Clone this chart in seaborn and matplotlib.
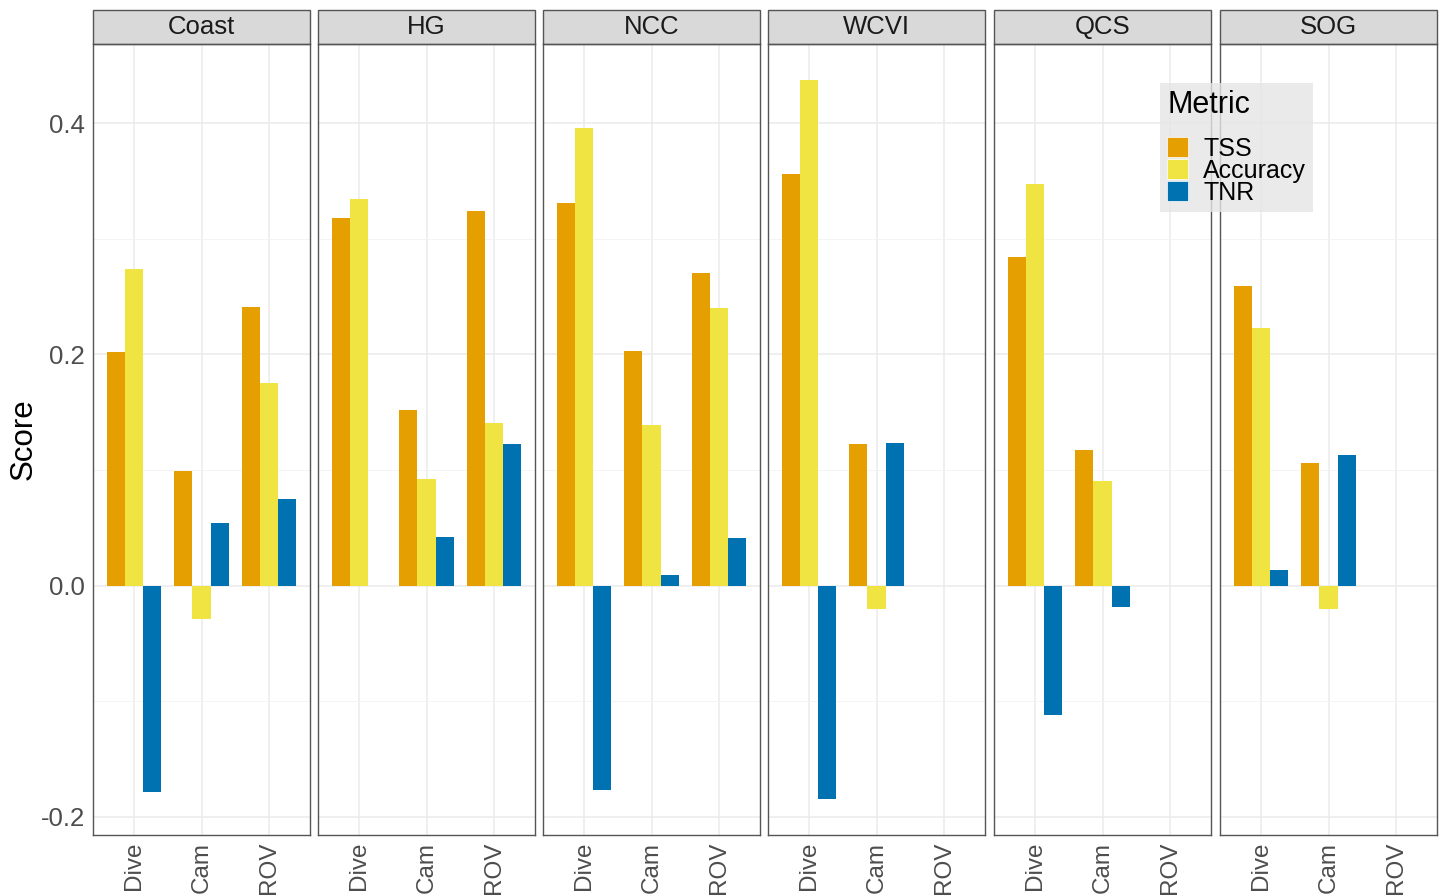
import numpy as np
import pandas as pd
import matplotlib
matplotlib.use("Agg")
import matplotlib.pyplot as plt
from matplotlib.patches import Rectangle, Patch
import seaborn as sns

regions = ["Coast", "HG", "NCC", "WCVI", "QCS", "SOG"]
methods = ["Dive", "Cam", "ROV"]
metrics = ["TSS", "Accuracy", "TNR"]
colors = ["#E69F00", "#F0E442", "#0072B2"]

# values per region: [Dive, Cam, ROV]
tss = {
    "Coast": [0.202, 0.099, 0.241],
    "HG":    [0.318, 0.152, 0.324],
    "NCC":   [0.331, 0.203, 0.270],
    "WCVI":  [0.356, 0.122, np.nan],
    "QCS":   [0.284, 0.117, np.nan],
    "SOG":   [0.259, 0.106, np.nan],
}
accuracy = {
    "Coast": [0.274, -0.029, 0.175],
    "HG":    [0.334, 0.092, 0.141],
    "NCC":   [0.396, 0.139, 0.240],
    "WCVI":  [0.437, -0.020, np.nan],
    "QCS":   [0.347, 0.090, np.nan],
    "SOG":   [0.223, -0.020, np.nan],
}
tnr = {
    "Coast": [-0.179, 0.054, 0.075],
    "HG":    [np.nan, 0.042, 0.122],
    "NCC":   [-0.177, 0.0095, 0.041],
    "WCVI":  [-0.185, 0.123, np.nan],
    "QCS":   [-0.112, -0.019, np.nan],
    "SOG":   [0.013, 0.113, np.nan],
}

rows = []
for r in regions:
    for name, src in zip(metrics, [tss, accuracy, tnr]):
        for m, v in zip(methods, src[r]):
            rows.append({"Region": r, "Method": m, "Metric": name, "Score": v})
df = pd.DataFrame(rows).dropna()

sns.set_theme(style="white")
plt.rcParams["font.family"] = ["Liberation Sans", "DejaVu Sans"]

W, H = 1440, 896
fig = plt.figure(figsize=(W / 100, H / 100), dpi=100)

lefts = [93, 318, 543, 768, 994, 1220]
pw = 217
top_px, bot_px = 44, 835
strip_h = 34
palette = dict(zip(metrics, colors))
ylo, yhi = -0.2158, 0.4684

for i, (r, lx) in enumerate(zip(regions, lefts)):
    ax = fig.add_axes([lx / W, (H - bot_px) / H, pw / W, (bot_px - top_px) / H])
    sub = df[df["Region"] == r]
    sns.barplot(data=sub, x="Method", y="Score", hue="Metric", order=methods,
                hue_order=metrics, palette=palette, errorbar=None, width=0.8,
                saturation=1, linewidth=0, ax=ax, legend=False, zorder=3)
    ax.set_xlim(-0.6, 2.6)
    ax.set_ylim(ylo, yhi)
    ax.set_yticks([-0.2, 0.0, 0.2, 0.4])
    ax.set_yticks([-0.1, 0.1, 0.3], minor=True)
    ax.grid(True, which="major", color="#EBEBEB", linewidth=1.1, zorder=0)
    ax.grid(True, which="minor", axis="y", color="#F2F2F2", linewidth=0.6, zorder=0)
    ax.set_axisbelow(True)
    for s in ax.spines.values():
        s.set_color("#555555")
        s.set_linewidth(1.0)
    ax.tick_params(axis="both", which="major", length=4, width=0.9, color="#333333",
                   labelsize=18.5, labelcolor="#4D4D4D", pad=2)
    ax.tick_params(axis="x", which="major", labelsize=17.5, pad=1)
    ax.tick_params(axis="both", which="minor", length=0)
    ax.set_xticks(range(3))
    ax.set_xticklabels(methods, rotation=90)
    ax.set_xlabel("")
    if i == 0:
        ax.set_yticklabels(["-0.2", "0.0", "0.2", "0.4"])
        ax.set_ylabel("Score", fontsize=22.5, color="black", labelpad=1.5)
    else:
        ax.tick_params(axis="y", left=False, labelleft=False)
        ax.set_ylabel("")
    # strip
    sh = strip_h / (bot_px - top_px)
    ax.add_patch(Rectangle((0, 1), 1, sh, transform=ax.transAxes, clip_on=False,
                           facecolor="#D9D9D9", edgecolor="#555555", linewidth=1.0))
    ax.text(0.5, 1 + sh / 2, r, transform=ax.transAxes, ha="center", va="center",
            fontsize=18.5, color="#1A1A1A")

handles = [Patch(facecolor=c, edgecolor="white", linewidth=0.5) for c in colors]
leg = fig.legend(handles, metrics, title="Metric", loc="upper left",
                 bbox_to_anchor=(1160 / W, 1 - 83 / H), frameon=True,
                 fontsize=18, title_fontsize=22, handlelength=0.85, handleheight=0.9,
                 labelspacing=-0.08, handletextpad=0.6, borderpad=0.28,
                 borderaxespad=0, fancybox=False)
leg.get_frame().set_facecolor("#E5E5E5")
leg.get_frame().set_edgecolor("none")
leg.get_title().set_color("black")
for t in leg.get_texts():
    t.set_color("black")
leg._legend_box.align = "left"
leg._legend_box.sep = 12

fig.savefig("out.png", dpi=100)
